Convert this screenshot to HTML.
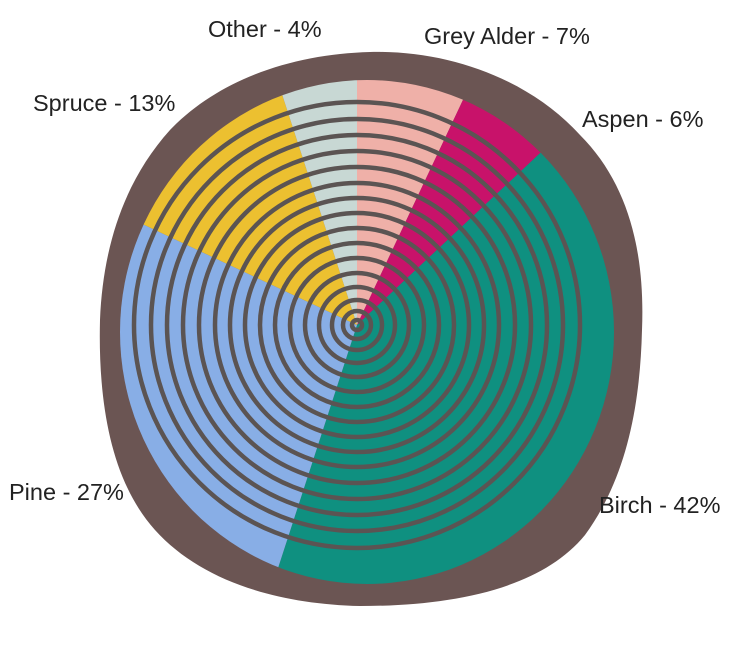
<!DOCTYPE html>
<html><head><meta charset="utf-8"><style>
html,body{margin:0;padding:0;background:#fff;overflow:hidden;width:738px;height:656px;}
svg{display:block;position:absolute;left:0;top:0;overflow:hidden;}
svg text{font-family:"Liberation Sans",sans-serif;font-size:23.5px;fill:#222;}
</style></head><body>
<svg width="738" height="656" viewBox="0 0 738 656" xmlns="http://www.w3.org/2000/svg">
<defs>
<clipPath id="inner"><ellipse cx="367" cy="332" rx="247" ry="252"/></clipPath>
</defs>
<path d="M370,52 C450,50 530,80 580,135 C630,185 645,255 642,330 C640,410 625,480 585,535 C540,590 450,606 360,606 C275,604 200,580 155,530 C110,480 98,400 100,320 C103,245 125,180 170,130 C220,78 295,54 370,52Z" fill="#6b5553"/>
<g clip-path="url(#inner)">
<g transform="translate(357,325)">
<path d="M0,0 L0,-400 A400,400 0 0 1 170.4,-361.9Z" fill="#efb0a8"/>
<path d="M0,0 L170.4,-361.9 A400,400 0 0 1 291.6,-273.8Z" fill="#c8126a"/>
<path d="M0,0 L291.6,-273.8 A400,400 0 1 1 -123.6,380.4Z" fill="#0f9080"/>
<path d="M0,0 L-123.6,380.4 A400,400 0 0 1 -362.0,-170.3Z" fill="#88aee6"/>
<path d="M0,0 L-362.0,-170.3 A400,400 0 0 1 -123.6,-380.4Z" fill="#ecc030"/>
<path d="M0,0 L-123.6,-380.4 A400,400 0 0 1 0,-400Z" fill="#c8d8d4"/>
<g fill="none" stroke="#5b5453" stroke-width="4.5">
<circle r="5"/><circle r="14"/><circle r="25"/><circle r="38"/><circle r="52"/><circle r="67"/><circle r="82"/><circle r="97"/><circle r="112"/><circle r="127"/><circle r="142"/><circle r="158"/><circle r="174"/><circle r="190"/><circle r="206"/><circle r="223"/>
</g>
</g>
</g>
<text x="208" y="37">Other - 4%</text>
<text x="424" y="44">Grey Alder - 7%</text>
<text x="33" y="111">Spruce - 13%</text>
<text x="582" y="127">Aspen - 6%</text>
<text x="9" y="500">Pine - 27%</text>
<text x="599" y="513">Birch - 42%</text>
</svg>
</body></html>
